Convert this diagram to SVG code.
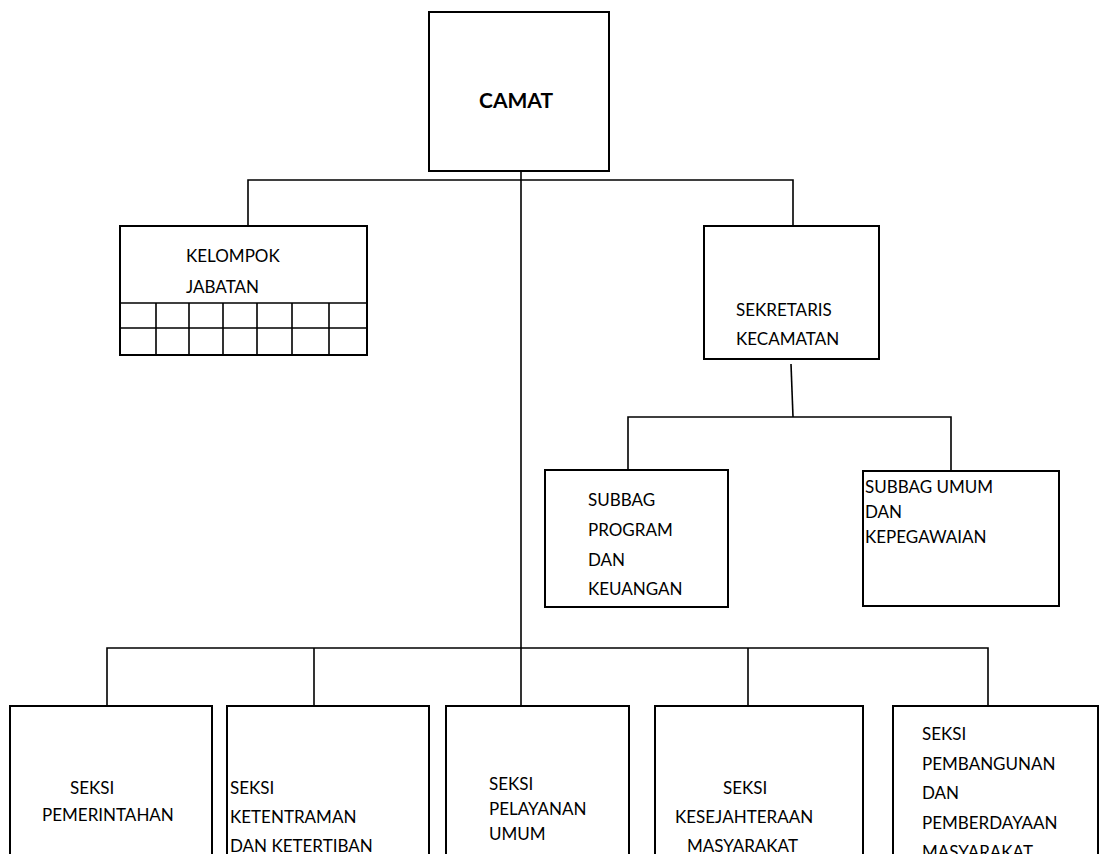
<svg xmlns="http://www.w3.org/2000/svg" width="1100" height="854" viewBox="0 0 1100 854">
<style>
.box{fill:#fff;stroke:#000;stroke-width:2}
.ln{fill:none;stroke:#000;stroke-width:1.6}
.t{font-family:Lato,"Liberation Sans",sans-serif;font-size:17px;fill:#000}
.b{font-family:Lato,"Liberation Sans",sans-serif;font-size:21px;font-weight:bold;fill:#000}
</style>
<rect width="1100" height="854" fill="#fff"/>
<g id="connectors">
<path class="ln" d="M521 140 V705"/>
<path class="ln" d="M248 226 V180 H793 V226"/>
<path class="ln" d="M791 364 L793 417"/>
<path class="ln" d="M628 470 V417 H951 V470"/>
<path class="ln" d="M107 705 V648 H988 V705"/>
<path class="ln" d="M314 648 V705"/>
<path class="ln" d="M748 648 V705"/>
</g>
<g id="camat">
<rect class="box" x="429" y="12" width="180" height="159"/>
<text class="b" x="479" y="108">CAMAT</text>
</g>
<g id="kelompok-jabatan">
<rect class="box" x="120" y="226" width="247" height="129"/>
<path class="ln" d="M120 303 H367 M120 328 H367 M156 303 V355 M189 303 V355 M223 303 V355 M257 303 V355 M292 303 V355 M329 303 V355"/>
<text class="t" x="186" y="262">KELOMPOK</text>
<text class="t" x="186" y="293">JABATAN</text>
</g>
<g id="sekretaris">
<rect class="box" x="704" y="226" width="175" height="133"/>
<text class="t" x="736" y="316">SEKRETARIS</text>
<text class="t" x="736" y="345">KECAMATAN</text>
</g>
<g id="subbag-program">
<rect class="box" x="545" y="470" width="183" height="137"/>
<text class="t" x="588" y="506">SUBBAG</text>
<text class="t" x="588" y="536">PROGRAM</text>
<text class="t" x="588" y="566">DAN</text>
<text class="t" x="588" y="595">KEUANGAN</text>
</g>
<g id="subbag-umum">
<rect class="box" x="863" y="471" width="196" height="135"/>
<text class="t" x="865" y="493">SUBBAG UMUM</text>
<text class="t" x="865" y="518">DAN</text>
<text class="t" x="865" y="543">KEPEGAWAIAN</text>
</g>
<g id="seksi-pemerintahan">
<rect class="box" x="10" y="706" width="202" height="160"/>
<text class="t" x="70" y="794">SEKSI</text>
<text class="t" x="42" y="821">PEMERINTAHAN</text>
</g>
<g id="seksi-ketentraman">
<rect class="box" x="227" y="706" width="202" height="160"/>
<text class="t" x="230" y="794">SEKSI</text>
<text class="t" x="230" y="823">KETENTRAMAN</text>
<text class="t" x="230" y="852">DAN KETERTIBAN</text>
</g>
<g id="seksi-pelayanan">
<rect class="box" x="446" y="706" width="183" height="160"/>
<text class="t" x="489" y="790">SEKSI</text>
<text class="t" x="489" y="815">PELAYANAN</text>
<text class="t" x="489" y="840">UMUM</text>
</g>
<g id="seksi-kesejahteraan">
<rect class="box" x="655" y="706" width="208" height="160"/>
<text class="t" x="723" y="794">SEKSI</text>
<text class="t" x="675" y="823">KESEJAHTERAAN</text>
<text class="t" x="687" y="852">MASYARAKAT</text>
</g>
<g id="seksi-pembangunan">
<rect class="box" x="893" y="706" width="205" height="160"/>
<text class="t" x="922" y="740">SEKSI</text>
<text class="t" x="922" y="770">PEMBANGUNAN</text>
<text class="t" x="922" y="799">DAN</text>
<text class="t" x="922" y="829">PEMBERDAYAAN</text>
<text class="t" x="922" y="858">MASYARAKAT</text>
</g>
</svg>
